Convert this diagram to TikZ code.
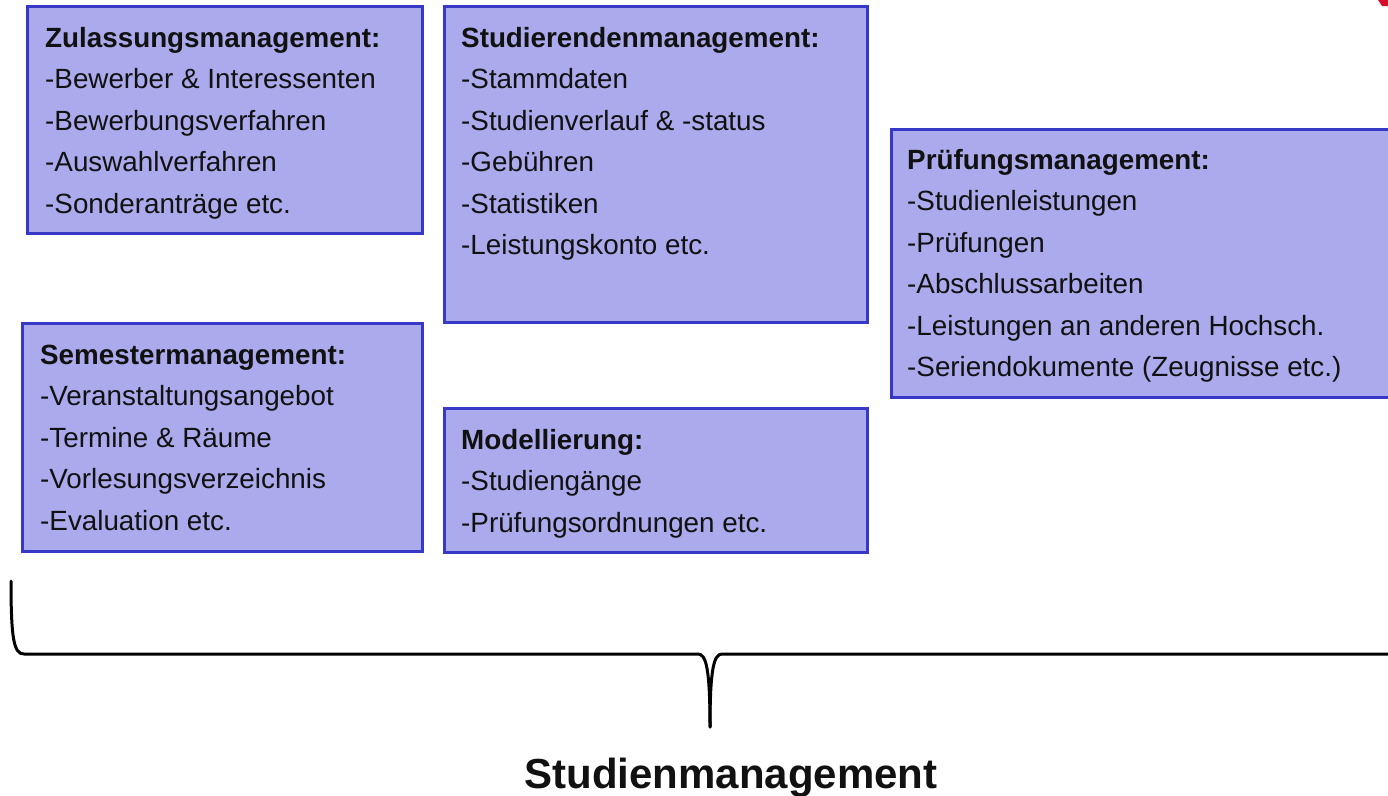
\documentclass[tikz,border=0pt]{standalone}
\usepackage{fontspec}
\setmainfont{Liberation Sans}
\usetikzlibrary{calc}
\definecolor{boxfill}{RGB}{170,170,236}
\definecolor{boxline}{RGB}{55,55,200}
\definecolor{markred}{RGB}{215,10,40}
\definecolor{txtcol}{RGB}{17,17,17}
\tikzset{
  box/.style={draw=boxline, fill=boxfill, line width=3pt, rectangle, inner sep=0pt, outer sep=0pt, anchor=north west},
  txt/.style={anchor=north west, inner sep=0pt, align=left, text=txtcol, font=\fontsize{27.8}{41.5}\selectfont},
  brace/.style={draw=black, line width=3pt, line cap=round, line join=round}
}
\newcommand{\fl}{\rule{0pt}{21pt}}
\begin{document}
\begin{tikzpicture}[x=1pt,y=-1pt]
\useasboundingbox (0,0) rectangle (1388,795);
\clip (0,0) rectangle (1388,795);
% boxes
\node[box, minimum width=395pt, minimum height=227pt] (zul) at (27,6) {};
\node[box, minimum width=423pt, minimum height=316pt] (stud) at (444,6) {};
\node[box, minimum width=520pt, minimum height=268pt] (pruef) at (891,129) {};
\node[box, minimum width=400pt, minimum height=228pt] (sem) at (22,323) {};
\node[box, minimum width=423pt, minimum height=144pt] (mod) at (444,408) {};
% texts
\node[txt] (zulT) at ($(zul.north west)+(18,20)$) {\fl\textbf{Zulassungsmanagement:}\\-Bewerber \& Interessenten\\-Bewerbungsverfahren\\-Auswahlverfahren\\-Sonderanträge etc.};
\node[txt] (studT) at ($(stud.north west)+(17,20)$) {\fl\textbf{Studierendenmanagement:}\\-Stammdaten\\-Studienverlauf \& -status\\-Gebühren\\-Statistiken\\-Leistungskonto etc.};
\node[txt] (pruefT) at ($(pruef.north west)+(16,19)$) {\fl\textbf{Prüfungsmanagement:}\\-Studienleistungen\\-Prüfungen\\-Abschlussarbeiten\\-Leistungen an anderen Hochsch.\\-Seriendokumente (Zeugnisse etc.)};
\node[txt] (semT) at ($(sem.north west)+(18,20)$) {\fl\textbf{Semestermanagement:}\\-Veranstaltungsangebot\\-Termine \& Räume\\-Vorlesungsverzeichnis\\-Evaluation etc.};
\node[txt] (modT) at ($(mod.north west)+(17,20)$) {\fl\textbf{Modellierung:}\\-Studiengänge\\-Prüfungsordnungen etc.};
% brace
\coordinate (bl) at (11,581);
\coordinate (tip) at (710,727);
\coordinate (br) at (1400,654);
\draw[brace] (bl) .. controls (11,640) and (14,654) .. (24,654) -- (698,654)
  .. controls (706,654) and (710,668) .. (tip);
\draw[brace] (br) -- (722,654) .. controls (714,654) and (710,668) .. (tip);
% label
\node[anchor=base, inner sep=0pt, text=txtcol, font=\fontsize{42}{50}\selectfont\bfseries] (lab) at (731,788) {Studienmanagement};
% red mark top right
\fill[markred] (1378,0) -- (1388,0) -- (1388,6) -- (1382,6) -- cycle;
\end{tikzpicture}
\end{document}
